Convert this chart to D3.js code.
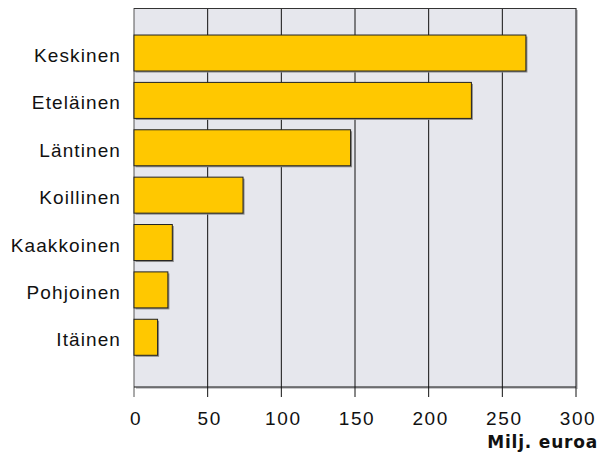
<!DOCTYPE html>
<html>
<head>
<meta charset="utf-8">
<script src="https://cdn.jsdelivr.net/npm/d3@7"></script>
<style>
  body { margin: 0; background: #fff; }
  svg text { font-family: "Liberation Sans", Arial, sans-serif; }
</style>
</head>
<body>
<svg id="chart" width="598" height="453"></svg>
<script>
var regions = ["Keskinen", "Eteläinen", "Läntinen", "Koillinen", "Kaakkoinen", "Pohjoinen", "Itäinen"];
var values = [266, 229, 147, 74, 26, 23, 16];
var ticks = [0, 50, 100, 150, 200, 250, 300];

var margin = {top: 8, right: 22, bottom: 66, left: 134};
var width = 598 - margin.left - margin.right,
    height = 453 - margin.top - margin.bottom;

var svg = d3.select("#chart");
var g = svg.append("g")
    .attr("transform", "translate(" + margin.left + "," + margin.top + ")");

var x = d3.scaleLinear().domain([0, 300]).range([0, width]);
var y = d3.scaleBand().domain(regions).range([0, height])
    .paddingInner(0.24).paddingOuter(0.62).align(0.46);

// plot background with a soft shadow
g.append("rect")
    .attr("x", 2).attr("y", 2)
    .attr("width", width).attr("height", height)
    .attr("fill", "#c9c9cc");
g.append("rect")
    .attr("width", width).attr("height", height)
    .attr("fill", "#e6e7ed");

// grid lines
g.selectAll(".grid")
    .data(ticks)
    .enter().append("line")
    .attr("class", "grid")
    .attr("x1", function(d) { return x(d); })
    .attr("x2", function(d) { return x(d); })
    .attr("y1", 0).attr("y2", height + 10)
    .attr("stroke", function(d) { return d === 0 ? "#555" : "#111"; })
    .attr("stroke-width", 1);

g.append("line")
    .attr("x1", 0).attr("x2", width)
    .attr("y1", 0.5).attr("y2", 0.5)
    .attr("stroke", "#333");

// bars: shadow then bar
g.selectAll(".shadow")
    .data(values)
    .enter().append("rect")
    .attr("class", "shadow")
    .attr("x", 1.5)
    .attr("y", function(d, i) { return y(regions[i]) + 1.5; })
    .attr("width", function(d) { return x(d); })
    .attr("height", y.bandwidth())
    .attr("fill", "#8a8a8a");

g.selectAll(".bar")
    .data(values)
    .enter().append("rect")
    .attr("class", "bar")
    .attr("x", 0)
    .attr("y", function(d, i) { return y(regions[i]); })
    .attr("width", function(d) { return x(d); })
    .attr("height", y.bandwidth())
    .attr("fill", "#ffc800")
    .attr("stroke", "#222")
    .attr("stroke-width", 1);

// bottom axis line
g.append("line")
    .attr("x1", 0).attr("x2", width)
    .attr("y1", height).attr("y2", height)
    .attr("stroke", "#111");

// category labels
g.selectAll(".cat")
    .data(regions)
    .enter().append("text")
    .attr("class", "cat")
    .attr("x", -13)
    .attr("y", function(d) { return y(d) + y.bandwidth() / 2 + 9; })
    .attr("text-anchor", "end")
    .attr("font-size", 19)
    .attr("letter-spacing", 1.1)
    .attr("fill", "#111")
    .text(function(d) { return d; });

// tick labels
g.selectAll(".tick-label")
    .data(ticks)
    .enter().append("text")
    .attr("class", "tick-label")
    .attr("x", function(d) { return x(d) + 2; })
    .attr("y", height + 38)
    .attr("text-anchor", "middle")
    .attr("font-size", 19)
    .attr("letter-spacing", 1.6)
    .attr("fill", "#111")
    .text(function(d) { return d; });

svg.append("text")
    .attr("x", 598)
    .attr("y", 448)
    .attr("text-anchor", "end")
    .style("font-family", "'DejaVu Sans', Verdana, sans-serif")
    .attr("font-size", 17)
    .attr("font-weight", "bold")
    .attr("letter-spacing", 0.8)
    .attr("fill", "#111")
    .text("Milj. euroa");
</script>
</body>
</html>
